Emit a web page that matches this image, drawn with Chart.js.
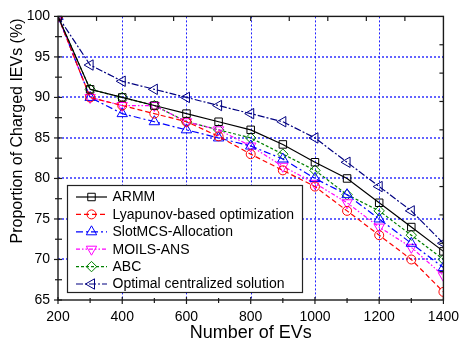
<!DOCTYPE html>
<html>
<head>
<meta charset="utf-8">
<script src="https://cdn.jsdelivr.net/npm/chart.js@4/dist/chart.umd.min.js"></script>
<style>
  html, body { margin: 0; padding: 0; background: #ffffff; }
  #wrap { width: 468px; height: 344px; }
</style>
</head>
<body>
<div id="wrap"><canvas id="c" width="468" height="344"></canvas></div>
<script>
// Number of EVs on the horizontal axis
const evCounts = [200, 300, 400, 500, 600, 700, 800, 900, 1000, 1100, 1200, 1300, 1400];

// Proportion of charged IEVs (%) for each method
const armm      = [100, 91, 90, 89, 88, 87, 86, 84.2, 82, 80, 77, 74, 71];
const lyapunov  = [100, 90, 89, 88, 87, 85.2, 83, 81, 79, 76, 73, 70, 66];
const slotMCS   = [100, 90, 88, 87, 86, 85, 84, 82.4, 80, 78, 75, 72, 69];
const moilsAns  = [100, 90, 89, 89, 87, 86, 84, 81.5, 79.4, 77, 74, 71.5, 68];
const abc       = [100, 91, 90, 89, 87, 86, 85, 83, 81, 78, 76, 73, 70];
const optimal   = [100, 94, 92, 91, 90, 89, 88, 87, 85, 82, 79, 76, 72];

const seriesNames = ['ARMM', 'Lyapunov-based optimization', 'SlotMCS-Allocation',
                     'MOILS-ANS', 'ABC', 'Optimal centralized solution'];

// Axis tick values
const xTickValues = [200, 400, 600, 800, 1000, 1200, 1400];
const yTickValues = [65, 70, 75, 80, 85, 90, 95, 100];

const FONT = '"Liberation Sans", Arial, Helvetica, sans-serif';

function series(label, data, color, dash, pointStyle, radius, rotation) {
  return {
    label, data: evCounts.map((x, i) => ({ x, y: data[i] })),
    borderColor: color, borderWidth: 1.2, borderDash: dash,
    pointStyle, pointRadius: radius, pointHoverRadius: radius, pointRotation: rotation || 0,
    pointBorderColor: color, pointBackgroundColor: 'rgba(0,0,0,0)', pointBorderWidth: 1,
    fill: false, tension: 0, clip: 0
  };
}

const datasets = [
  series(seriesNames[0], armm,     '#000000', [],                 'rect',     5.3),
  series(seriesNames[1], lyapunov, '#ff0000', [5, 3],             'circle',   4.5),
  series(seriesNames[2], slotMCS,  '#0000ff', [7, 3, 2, 3],       'triangle', 6),
  series(seriesNames[3], moilsAns, '#ff00ff', [4, 2, 1.5, 2, 1.5, 2], 'triangle', 6, 180),
  series(seriesNames[4], abc,      '#008000', [3, 2],             'rectRot',  5.2),
  series(seriesNames[5], optimal,  '#000080', [7, 2, 2, 2],       'triangle', 6, 270)
];

// Dotted blue grid at the inner major ticks
const gridPlugin = {
  id: 'dottedGrid',
  beforeDatasetsDraw(chart) {
    const { ctx, chartArea: a, scales: { x, y } } = chart;
    ctx.save();
    ctx.strokeStyle = '#2020ff';
    ctx.lineWidth = 1;
    ctx.setLineDash([2, 2]);
    xTickValues.slice(1, -1).forEach(v => {
      const px = Math.round(x.getPixelForValue(v)) + 0.5;
      ctx.beginPath(); ctx.moveTo(px, a.top); ctx.lineTo(px, a.bottom); ctx.stroke();
    });
    ctx.strokeStyle = '#1010ff';
    ctx.lineWidth = 1.3;
    yTickValues.slice(1, -1).forEach(v => {
      const py = Math.round(y.getPixelForValue(v));
      ctx.beginPath(); ctx.moveTo(a.left, py); ctx.lineTo(a.right, py); ctx.stroke();
    });
    ctx.restore();
  }
};

// Box frame, tick marks, y title and the inset legend
const framePlugin = {
  id: 'frameAndLegend',
  afterDraw(chart) {
    const { ctx, chartArea: a, scales: { x, y } } = chart;
    ctx.save();
    ctx.strokeStyle = '#1a1a1a';
    ctx.lineWidth = 1.4;
    ctx.setLineDash([]);
    ctx.strokeRect(a.left, a.top, a.right - a.left, a.bottom - a.top);

    ctx.lineWidth = 1.2;
    // bottom axis ticks (major every 200, minor every 100)
    for (let v = 200; v <= 1400; v += 100) {
      const px = x.getPixelForValue(v);
      const major = v % 200 === 0;
      ctx.beginPath();
      ctx.moveTo(px, a.bottom - (major ? 3 : 2));
      ctx.lineTo(px, a.bottom + (major ? 4 : 3));
      ctx.stroke();
    }
    // left axis ticks (major every 5, minor every 2.5)
    for (let v = 65; v <= 100; v += 2.5) {
      const py = y.getPixelForValue(v);
      const major = v % 5 === 0;
      ctx.beginPath();
      ctx.moveTo(a.left - (major ? 4 : 3), py);
      ctx.lineTo(a.left + 4, py);
      ctx.stroke();
    }
    // top and right axes: ten equal divisions, inward ticks
    for (let k = 1; k < 10; k++) {
      const px = a.left + (a.right - a.left) * k / 10;
      ctx.beginPath(); ctx.moveTo(px, a.top); ctx.lineTo(px, a.top + 4.5); ctx.stroke();
      const py = a.top + (a.bottom - a.top) * k / 10;
      ctx.beginPath(); ctx.moveTo(a.right, py); ctx.lineTo(a.right - 4, py); ctx.stroke();
    }

    // y axis title
    ctx.fillStyle = '#000';
    ctx.font = '16px ' + FONT;
    ctx.textAlign = 'center';
    ctx.textBaseline = 'middle';
    ctx.translate(18, 131);
    ctx.rotate(-Math.PI / 2);
    ctx.fillText('Proportion of Charged IEVs (%)', 0, 0);
    ctx.setTransform(1, 0, 0, 1, 0, 0);

    // legend box
    const bx = 67, by = 185, bw = 235, bh = 107;
    ctx.fillStyle = '#ffffff';
    ctx.fillRect(bx, by, bw, bh);
    ctx.strokeStyle = '#222';
    ctx.lineWidth = 1.2;
    ctx.strokeRect(bx + 0.5, by + 0.5, bw, bh);

    ctx.font = '14px ' + FONT;
    ctx.textAlign = 'left';
    ctx.textBaseline = 'middle';
    chart.data.datasets.forEach((ds, i) => {
      const ry = 197 + i * 17.4;
      ctx.strokeStyle = ds.borderColor;
      ctx.lineWidth = ds.borderWidth;
      ctx.setLineDash(ds.borderDash);
      ctx.beginPath(); ctx.moveTo(76, ry); ctx.lineTo(107, ry); ctx.stroke();
      ctx.setLineDash([]);
      ctx.fillStyle = 'rgba(0,0,0,0)';
      ctx.lineWidth = ds.pointBorderWidth;
      Chart.helpers.drawPoint(ctx, {
        pointStyle: ds.pointStyle, rotation: ds.pointRotation,
        radius: ds.pointRadius, borderWidth: ds.pointBorderWidth
      }, 91.5, ry);
      ctx.fillStyle = '#000';
      ctx.fillText(ds.label, 112.5, ry + 0.5);
    });
    ctx.restore();
  }
};

new Chart(document.getElementById('c'), {
  type: 'line',
  data: { datasets },
  options: {
    responsive: false,
    animation: false,
    devicePixelRatio: 1,
    layout: { padding: { top: 13, right: 17, left: 0, bottom: 0 } },
    plugins: { legend: { display: false }, tooltip: { enabled: false } },
    scales: {
      x: {
        type: 'linear', min: 200, max: 1400,
        afterBuildTicks: s => { s.ticks = xTickValues.map(v => ({ value: v })); },
        afterFit: s => { s.height = 44; },
        ticks: { color: '#000', padding: 9, maxRotation: 0, autoSkip: false,
                 callback: v => String(v),
                 font: { family: FONT, size: 14 } },
        grid: { display: false, drawTicks: false },
        border: { display: false },
        title: { display: true, text: 'Number of EVs', color: '#000',
                 font: { family: FONT, size: 18 }, padding: { top: 0, bottom: 0 } }
      },
      y: {
        type: 'linear', min: 65, max: 100,
        afterBuildTicks: s => { s.ticks = yTickValues.map(v => ({ value: v })); },
        afterFit: s => { s.width = 58; },
        ticks: { color: '#000', padding: 8, autoSkip: false,
                 callback: v => String(v),
                 font: { family: FONT, size: 14 } },
        grid: { display: false, drawTicks: false },
        border: { display: false }
      }
    }
  },
  plugins: [gridPlugin, framePlugin]
});
</script>
</body>
</html>
